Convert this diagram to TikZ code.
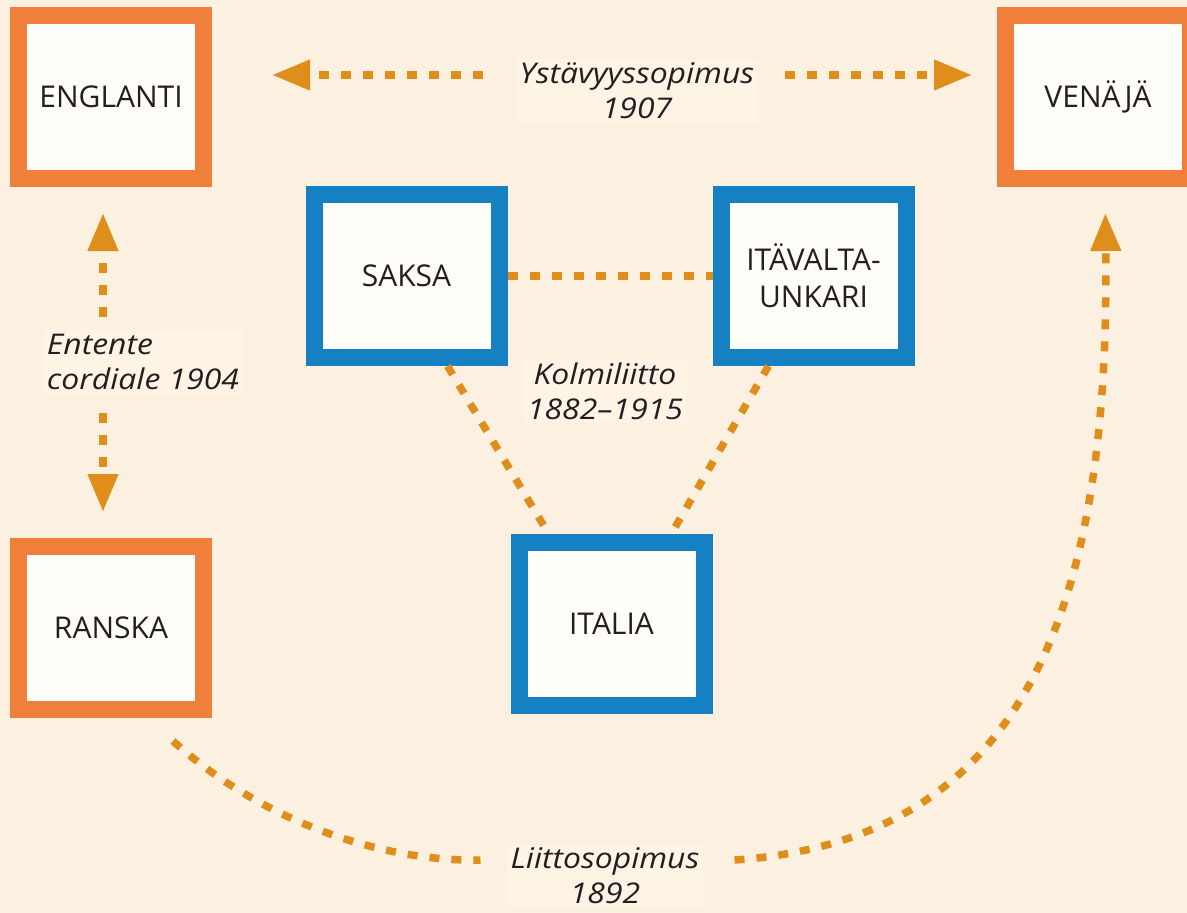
\documentclass[tikz,border=0pt]{standalone}
\usepackage{fontspec}
\setmainfont{Open Sans}
\newfontfamily\lblfont[FakeStretch=1.12]{Open Sans}
\usetikzlibrary{arrows.meta,calc}
\definecolor{bg}{HTML}{FCF1E0}
\definecolor{labelbg}{HTML}{FDF4E6}
\definecolor{orangeframe}{HTML}{F07F3C}
\definecolor{blueframe}{HTML}{1580C2}
\definecolor{dashcol}{HTML}{E08E1B}
\definecolor{boxfill}{HTML}{FFFDF8}
\definecolor{txt}{HTML}{231F20}
\tikzset{
  cbox/.style={draw, line width=17pt, fill=boxfill, minimum width=185pt, minimum height=163pt,
    inner sep=0pt, text=txt, font=\fontsize{30}{37}\selectfont, align=center},
  entbox/.style={cbox, draw=orangeframe},
  allybox/.style={cbox, draw=blueframe},
  lbl/.style={font=\lblfont\fontsize{28.5}{35}\selectfont\itshape, text=txt, align=center, inner sep=4pt, fill=labelbg},
  dline/.style={draw=dashcol, line width=7.5pt, dash pattern=on 10pt off 12pt},
  tip/.style={-{Triangle[length=38pt,width=29pt]}}
}
\begin{document}
\begin{tikzpicture}[x=1pt,y=-1pt]
\fill[bg] (0,0) rectangle (1187,913);
\useasboundingbox (0,0) rectangle (1187,913);

\node[entbox] (eng) at (111,97) {ENGLANTI};
\node[entbox] (ven) at (1098,97) {VENÄJÄ};
\node[entbox] (ran) at (111,628) {RANSKA};
\node[allybox] (sak) at (406.5,276) {SAKSA};
\node[allybox] (ita) at (813.5,276) {ITÄVALTA-\\UNKARI};
\node[allybox] (itl) at (611.5,623.5) {ITALIA};

\node[lbl] (ysta) at (637,91) {Ystävyyssopimus\\1907};
\node[lbl, align=left] (ent) at (143,362) {Entente\\cordiale 1904};
\node[lbl] (kol) at (605,391) {Kolmiliitto\\1882–1915};
\node[lbl] (lii) at (605,876) {Liittosopimus\\1892};

% Ystävyyssopimus
\coordinate (yl) at ([yshift=16pt,xshift=-33pt]ysta.west);
\coordinate (yr) at ([yshift=16pt,xshift=27pt]ysta.east);
\draw[dline, tip, shorten >=60pt] (yl) -- (yl -| eng.east);
\draw[dline, tip, shorten >=25pt] (yr) -- (yr -| ven.west);

% Entente cordiale
\coordinate (etop) at (103,317);
\coordinate (ebot) at (103,413);
\draw[dline, tip, shorten >=26pt] (etop) -- (etop |- eng.south);
\draw[dline, tip, shorten >=26pt] (ebot) -- (ebot |- ran.north);

% Kolmiliitto
\draw[dline] (sak.east) -- (ita.west);
\draw[dline] ([xshift=41pt]sak.south) -- ([xshift=-63pt]itl.north);
\draw[dline] ([xshift=-45pt]ita.south) -- ([xshift=60pt]itl.north);

% Liittosopimus
\draw[dline] ([xshift=62pt,yshift=-23pt]ran.south) .. controls (260,820) and (380,862) .. ([yshift=16pt,xshift=-26pt]lii.west);
\draw[dline, tip, shorten >=26pt] ([yshift=16pt,xshift=31pt]lii.east) .. controls (1030,840) and (1110,600) .. ([xshift=7pt]ven.south);
\end{tikzpicture}
\end{document}
